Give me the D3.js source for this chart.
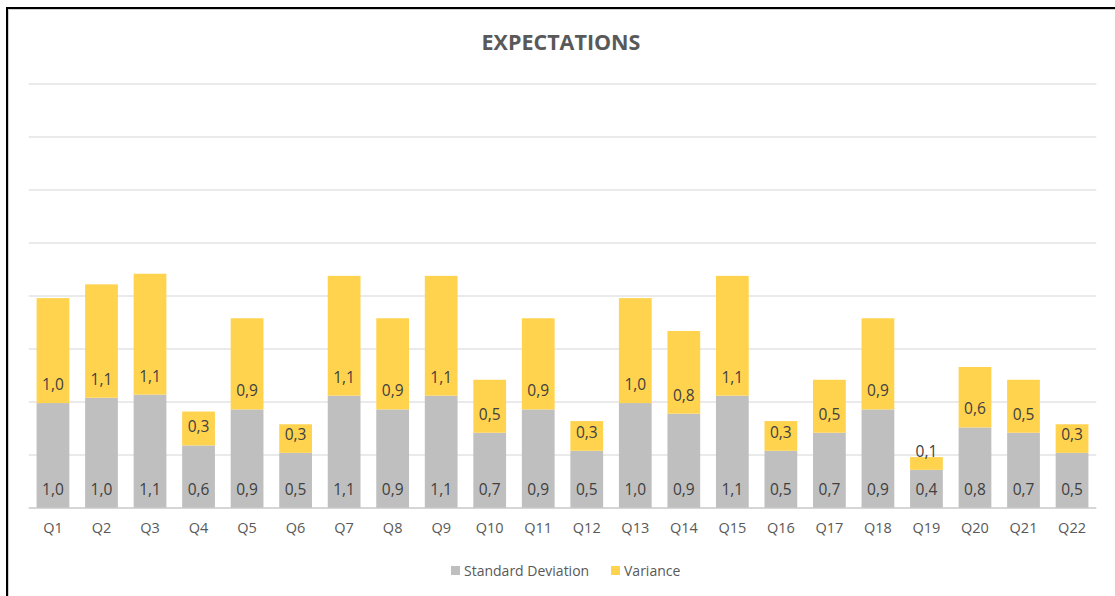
<!DOCTYPE html>
<html>
<head>
<meta charset="utf-8">
<script src="https://cdn.jsdelivr.net/npm/d3@7"></script>
<style>
  body { margin: 0; background: #fff; }
  text { font-family: "Open Sans", sans-serif; }
</style>
</head>
<body>
<svg id="chart"></svg>
<script>
const questions = ["Q1", "Q2", "Q3", "Q4", "Q5", "Q6", "Q7", "Q8", "Q9", "Q10", "Q11",
  "Q12", "Q13", "Q14", "Q15", "Q16", "Q17", "Q18", "Q19", "Q20", "Q21", "Q22"];
const stdDev = [0.99, 1.04, 1.07, 0.59, 0.93, 0.52, 1.06, 0.93, 1.06, 0.71, 0.93,
  0.54, 0.99, 0.89, 1.06, 0.54, 0.71, 0.93, 0.36, 0.76, 0.71, 0.52];
const variance = [0.99, 1.07, 1.14, 0.32, 0.86, 0.27, 1.13, 0.86, 1.13, 0.50, 0.86,
  0.28, 0.99, 0.78, 1.13, 0.28, 0.50, 0.86, 0.12, 0.57, 0.50, 0.27];
const seriesNames = ["Standard Deviation", "Variance"];
const gridTicks = [0, 0.5, 1, 1.5, 2, 2.5, 3, 3.5, 4];

const width = 1115, height = 596;
const colors = ["#bfbfbf", "#ffd34e"];

const svg = d3.select("#chart").attr("width", width).attr("height", height);

// frame of the screenshot
svg.append("path").attr("d", "M7,596V8H1115").attr("fill", "none")
  .attr("stroke", "#000").attr("stroke-width", 2);
svg.append("path").attr("d", "M8.5,596V9.5H1115").attr("fill", "none")
  .attr("stroke", "#d0d0d0").attr("stroke-width", 1);

const x = d3.scaleBand().domain(questions).range([28.7, 1096.3]).paddingInner(0.325).paddingOuter(0.1625);
const y = d3.scaleLinear().domain([0, 4]).range([508, 84]);

svg.append("g")
  .selectAll("line")
  .data(gridTicks.slice(1))
  .join("line")
  .attr("x1", 28.7).attr("x2", 1096.3)
  .attr("y1", (d) => y(d)).attr("y2", (d) => y(d))
  .attr("stroke", "#e3e3e3").attr("stroke-width", 1.5);

const rows = questions.map((q, i) => ({ q, sd: stdDev[i], v: variance[i] }));
const stacked = d3.stack().keys(["sd", "v"])(rows);

const fmt = (v) => d3.format(".1f")(v).replace(".", ",");

stacked.forEach((layer, k) => {
  svg.append("g")
    .selectAll("rect")
    .data(layer)
    .join("rect")
    .attr("x", (d) => x(d.data.q))
    .attr("width", x.bandwidth())
    .attr("y", (d) => y(d[1]))
    .attr("height", (d) => y(d[0]) - y(d[1]))
    .attr("fill", colors[k]);

  svg.append("g")
    .selectAll("text")
    .data(layer)
    .join("text")
    .attr("x", (d) => x(d.data.q) + x.bandwidth() / 2)
    .attr("y", (d) => y(d[0]) - 13)
    .attr("text-anchor", "middle")
    .attr("font-size", 15.5)
    .attr("fill", "#404040")
    .text((d) => fmt(d[1] - d[0]));
});

// baseline
svg.append("line")
  .attr("x1", 28.7).attr("x2", 1096.3)
  .attr("y1", y(0)).attr("y2", y(0))
  .attr("stroke", "#c8c8c8").attr("stroke-width", 1.5);

const xAxis = svg.append("g")
  .attr("transform", `translate(0,${y(0)})`)
  .call(d3.axisBottom(x).tickSize(0).tickPadding(15));
xAxis.select(".domain").remove();
xAxis.selectAll("text")
  .attr("font-family", "Open Sans, sans-serif")
  .attr("font-size", 14.5)
  .attr("fill", "#595959");

svg.append("text")
  .attr("x", 561).attr("y", 50)
  .attr("text-anchor", "middle")
  .attr("font-size", 21.5)
  .attr("font-weight", "bold")
  .attr("fill", "#595959")
  .text("EXPECTATIONS");

const legendX = [451, 611];
const legend = svg.append("g")
  .selectAll("g")
  .data(seriesNames)
  .join("g")
  .attr("transform", (_, i) => `translate(${legendX[i]},566)`);
legend.append("rect").attr("width", 9).attr("height", 9).attr("fill", (_, i) => colors[i]);
legend.append("text")
  .attr("x", 13).attr("y", 10)
  .attr("font-size", 14)
  .attr("fill", "#595959")
  .text((d) => d);
</script>
</body>
</html>
